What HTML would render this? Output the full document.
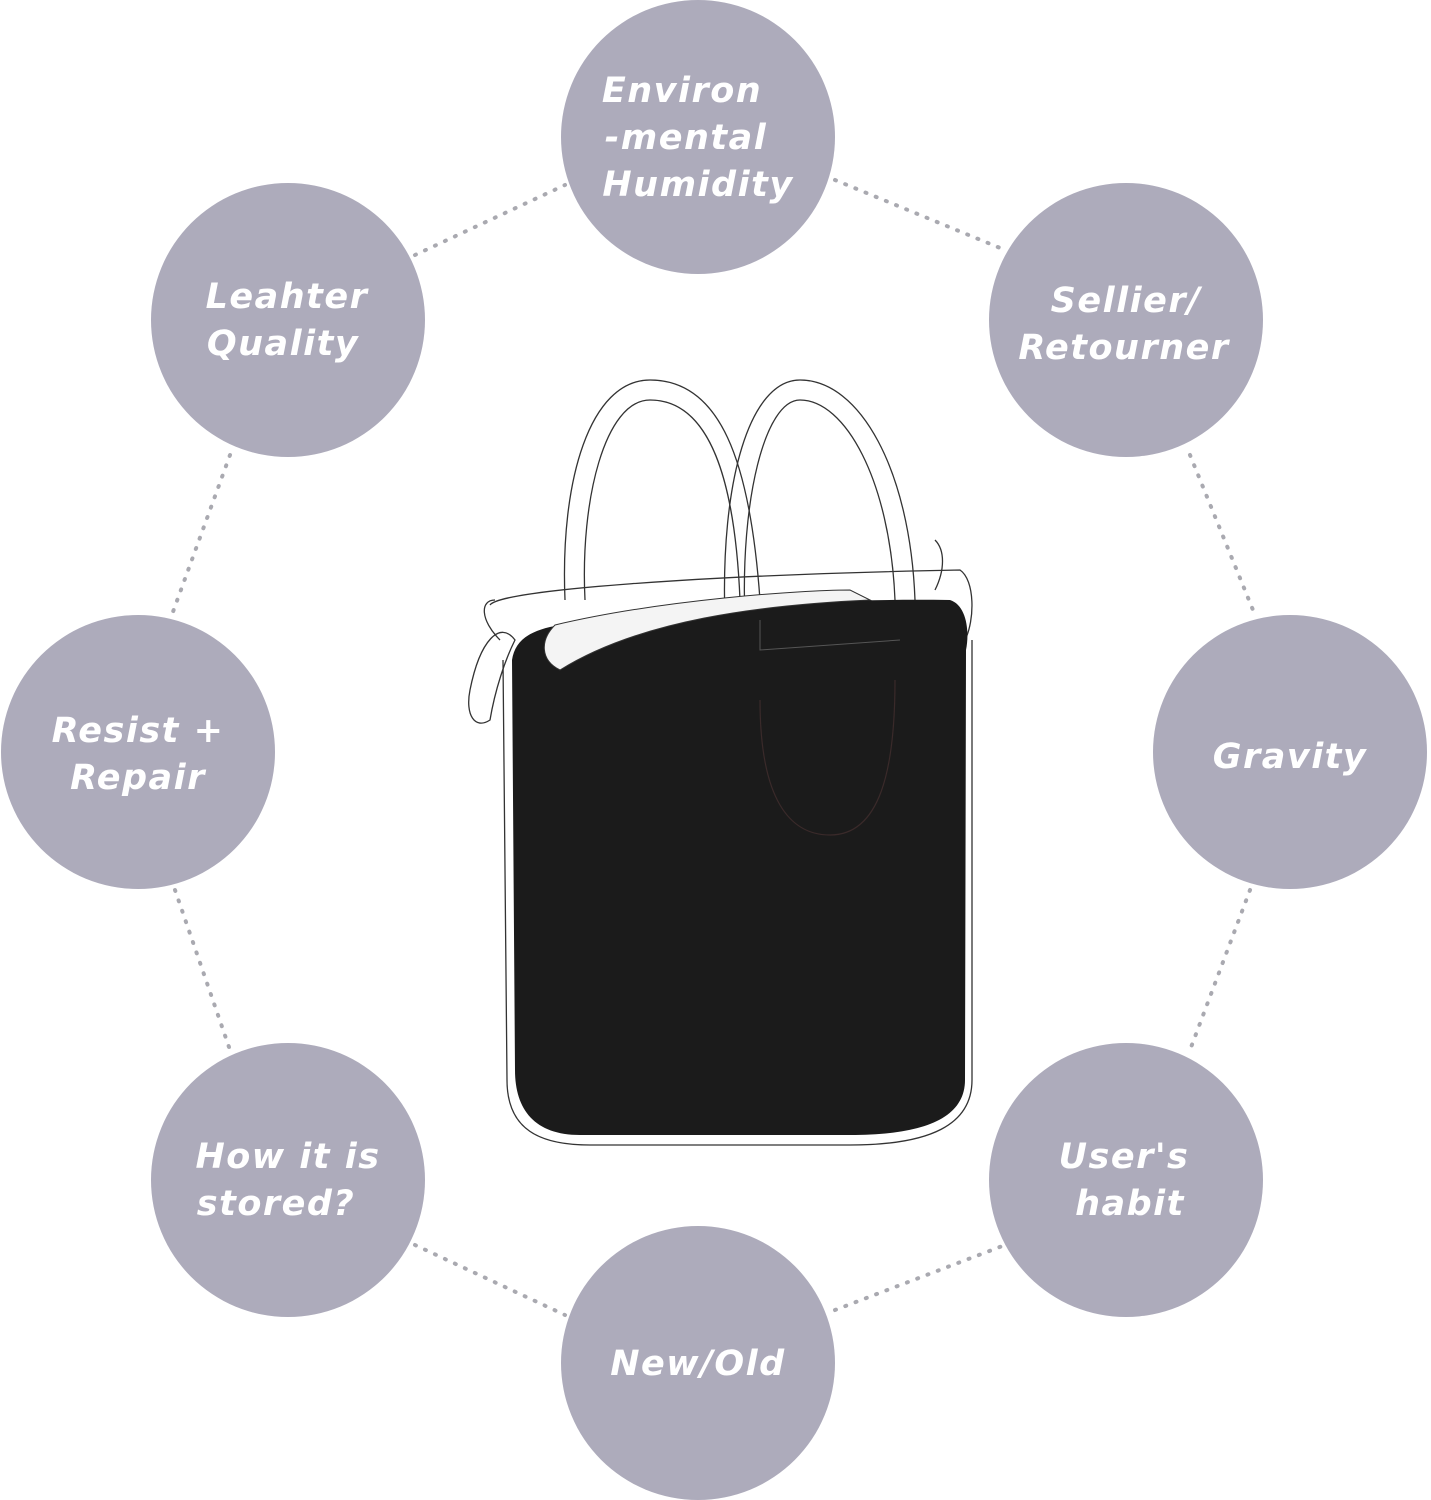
<!DOCTYPE html>
<html><head><meta charset="utf-8"><style>
html,body{margin:0;padding:0;background:#fff;}
svg{display:block}
text{font-family:"DejaVu Sans","Liberation Sans",sans-serif;font-weight:bold;font-style:italic;fill:#fff;font-size:35px;text-anchor:middle;letter-spacing:1.5px}
</style></head><body>
<svg width="1431" height="1500" viewBox="0 0 1431 1500">
<g stroke="#a9a9b0" stroke-width="4" stroke-dasharray="1 10" stroke-linecap="round" fill="none">
<line x1="415" y1="255" x2="565" y2="185"/>
<line x1="835" y1="180" x2="1005" y2="250"/>
<line x1="230" y1="455" x2="170" y2="620"/>
<line x1="1190" y1="455" x2="1255" y2="615"/>
<line x1="175" y1="890" x2="230" y2="1050"/>
<line x1="1250" y1="890" x2="1190" y2="1050"/>
<line x1="415" y1="1245" x2="565" y2="1315"/>
<line x1="835" y1="1310" x2="1005" y2="1245"/>
</g>
<g fill="#adabbb">
<circle cx="698" cy="137" r="137"/>
<circle cx="288" cy="320" r="137"/>
<circle cx="1126" cy="320" r="137"/>
<circle cx="138" cy="752" r="137"/>
<circle cx="1290" cy="752" r="137"/>
<circle cx="288" cy="1180" r="137"/>
<circle cx="1126" cy="1180" r="137"/>
<circle cx="698" cy="1363" r="137"/>
</g>
<text x="682" y="102">Environ</text><text x="686" y="149">-mental</text><text x="698" y="196">Humidity</text>
<text x="287" y="308">Leahter</text><text x="283" y="355">Quality</text>
<text x="1126" y="312">Sellier/</text><text x="1124" y="359">Retourner</text>
<text x="138" y="742">Resist +</text><text x="138" y="789">Repair</text>
<text x="1290" y="768">Gravity</text>
<text x="288" y="1168">How it is</text><text x="276" y="1215">stored?</text>
<text x="1124" y="1168">User's</text><text x="1130" y="1215">habit</text>
<text x="698" y="1375">New/Old</text>
<g fill="none" stroke="#333" stroke-width="1.3">
<path d="M565,600 C560,480 590,380 650,380 C720,380 750,460 760,600"/>
<path d="M585,600 C580,500 605,400 650,400 C710,400 735,480 740,600"/>
<path d="M725,620 C720,480 750,380 800,380 C860,380 910,470 915,600"/>
<path d="M745,620 C740,500 765,400 800,400 C845,400 890,480 895,600"/>
<path d="M490,605 C500,590 700,575 960,570 C975,580 975,620 965,640"/>
<path d="M500,640 C480,620 480,600 495,600"/>
<path d="M470,690 C480,640 500,620 515,640 C505,660 495,690 490,720 C475,730 465,715 470,690Z"/>
<path d="M935,540 C945,550 945,570 935,590"/>
<path d="M503,660 L507,1080 C507,1130 540,1145 590,1145 L850,1145 C930,1145 972,1125 972,1080 L972,640"/>
</g>
<path d="M512,660 C515,640 530,630 560,625 C680,610 800,598 950,600 C966,605 970,630 966,650 L965,1080 C965,1120 920,1135 850,1135 L580,1135 C535,1135 515,1110 515,1070 Z" fill="#1b1b1b"/>
<path d="M555,625 C660,600 800,590 850,590 L870,600 C760,605 640,620 560,670 C540,660 540,640 555,625Z" fill="#f4f4f4" stroke="#333" stroke-width="1"/>
<path d="M760,620 L760,650 L900,640" fill="none" stroke="#555" stroke-width="1"/>
<path d="M760,700 C760,800 790,835 830,835 C880,835 895,770 895,680" fill="none" stroke="#3a2a2a" stroke-width="1.2"/>
</svg>
</body></html>
